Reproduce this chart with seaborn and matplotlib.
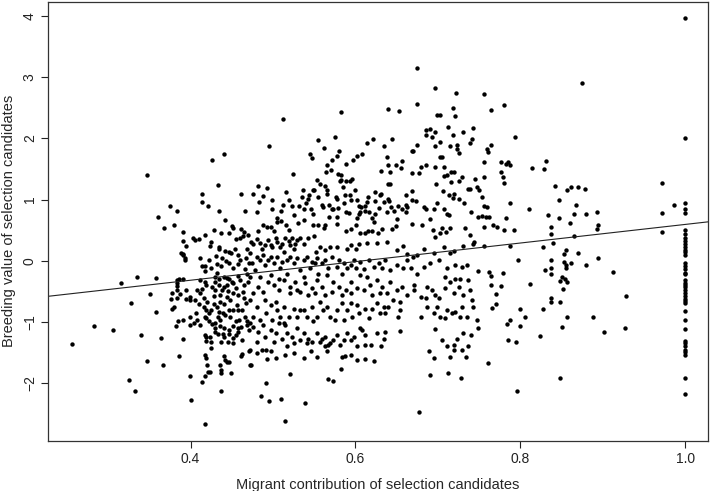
import numpy as np
import pandas as pd
import matplotlib
matplotlib.use("Agg")
import matplotlib.pyplot as plt
import seaborn as sns

# points, (migrant contribution, breeding value)
upper_left = [
    (0.347, 1.41), (0.426, 1.65), (0.441, 1.75), (0.433, 1.24), (0.414, 1.09), (0.414, 0.96),
    (0.421, 0.89), (0.435, 0.82), (0.375, 0.89), (0.383, 0.81), (0.360, 0.71), (0.461, 1.10),
    (0.476, 1.10), (0.482, 1.22), (0.483, 0.96), (0.466, 0.82), (0.480, 0.79), (0.442, 0.66),
]

upper_mid = [
    (0.675, 3.15), (0.697, 2.83), (0.722, 2.75), (0.756, 2.73), (0.675, 2.57), (0.639, 2.48),
    (0.653, 2.45), (0.583, 2.44), (0.512, 2.31), (0.718, 2.50), (0.721, 2.36), (0.699, 2.39),
    (0.703, 2.39), (0.495, 1.87), (0.686, 2.14), (0.691, 2.16), (0.696, 2.10), (0.685, 2.06),
    (0.693, 2.03), (0.712, 2.18), (0.718, 2.06), (0.730, 2.11), (0.743, 2.17), (0.741, 1.99),
    (0.739, 1.92), (0.760, 1.82), (0.761, 1.78), (0.756, 1.61), (0.756, 1.37), (0.723, 1.89),
    (0.715, 1.88), (0.725, 1.77), (0.723, 1.83), (0.697, 1.88), (0.702, 1.94), (0.675, 1.89),
    (0.668, 1.80), (0.670, 1.80), (0.644, 1.99), (0.634, 1.88), (0.638, 1.70), (0.621, 1.99),
    (0.614, 1.92), (0.657, 1.63), (0.649, 1.56), (0.639, 1.57), (0.655, 1.52), (0.631, 1.47),
    (0.642, 1.45), (0.686, 1.56), (0.680, 1.53), (0.668, 1.43), (0.677, 1.44), (0.696, 1.53),
    (0.707, 1.53), (0.705, 1.70), (0.703, 1.69), (0.711, 1.41), (0.716, 1.45), (0.720, 1.46),
    (0.698, 1.26), (0.707, 1.39), (0.716, 1.29), (0.725, 1.30), (0.729, 1.37), (0.745, 1.33),
    (0.737, 1.18), (0.739, 1.18), (0.748, 1.21), (0.750, 1.16), (0.706, 1.14), (0.713, 1.08),
    (0.719, 1.09), (0.718, 1.02), (0.726, 1.01), (0.732, 0.94), (0.754, 1.05), (0.669, 1.14),
    (0.674, 0.97), (0.668, 0.99), (0.640, 1.25), (0.642, 1.25), (0.624, 1.12), (0.631, 1.10),
    (0.630, 1.07), (0.635, 0.96), (0.640, 1.01), (0.641, 0.97), (0.643, 0.88), (0.647, 0.81),
    (0.652, 0.90), (0.656, 0.84), (0.661, 0.92), (0.661, 1.07), (0.624, 0.98), (0.628, 0.87),
    (0.614, 0.96), (0.607, 0.88), (0.612, 0.82), (0.604, 0.76), (0.597, 1.64), (0.602, 1.71),
    (0.608, 1.74), (0.588, 1.59), (0.572, 1.64), (0.578, 1.72), (0.580, 1.79), (0.575, 2.03),
    (0.562, 1.85), (0.555, 1.98), (0.545, 1.74), (0.547, 1.68), (0.565, 1.56), (0.564, 1.45),
    (0.570, 1.48), (0.579, 1.42), (0.582, 1.40), (0.581, 1.31), (0.583, 1.32), (0.588, 1.30),
    (0.593, 1.31), (0.596, 1.34), (0.524, 1.42), (0.553, 1.32), (0.557, 1.25), (0.563, 1.23),
    (0.536, 1.16), (0.548, 1.15), (0.550, 1.16), (0.565, 1.16), (0.566, 1.10), (0.576, 1.04),
    (0.577, 1.01), (0.587, 1.08), (0.593, 1.08), (0.542, 1.01), (0.540, 0.95), (0.544, 1.08),
    (0.516, 1.12), (0.519, 0.99), (0.523, 0.90), (0.512, 0.92), (0.499, 1.00), (0.488, 1.06),
    (0.493, 1.19), (0.499, 0.85), (0.510, 0.82), (0.532, 0.90), (0.537, 0.85), (0.559, 0.91),
    (0.561, 0.88), (0.568, 0.92), (0.571, 0.84), (0.573, 0.84), (0.579, 0.87), (0.586, 0.95),
    (0.594, 0.99), (0.588, 0.79), (0.592, 0.78), (0.602, 0.99), (0.604, 0.90), (0.611, 0.90),
    (0.606, 0.79), (0.616, 0.79), (0.546, 0.84), (0.548, 0.77), (0.568, 0.72), (0.577, 0.71),
    (0.602, 0.70), (0.624, 0.77), (0.638, 0.79), (0.661, 0.80), (0.662, 0.88), (0.683, 0.88),
    (0.686, 0.84), (0.695, 0.84), (0.699, 0.94), (0.707, 0.84), (0.711, 0.77), (0.714, 0.75),
    (0.740, 0.79), (0.749, 0.72), (0.754, 0.73), (0.756, 0.90), (0.760, 0.88),
    (0.505, 0.70), (0.525, 0.75), (0.535, 1.05), (0.555, 1.05), (0.585, 1.20), (0.600, 1.15),
    (0.615, 1.05), (0.620, 0.70), (0.650, 0.68), (0.690, 0.68), (0.530, 0.62), (0.510, 0.65),
]

upper_right = [
    (0.875, 2.90), (0.765, 2.47), (0.780, 2.55), (0.793, 2.02), (0.765, 1.90), (0.777, 1.62),
    (0.782, 1.59), (0.785, 1.61), (0.787, 1.57), (0.814, 1.51), (0.829, 1.50), (0.831, 1.63),
    (0.776, 1.45), (0.779, 1.37), (0.780, 1.27), (0.972, 1.28), (0.842, 1.22), (0.856, 1.16),
    (0.861, 1.21), (0.870, 1.21), (0.879, 1.17), (0.847, 1.00), (0.788, 0.95), (0.811, 0.84),
    (0.867, 0.91), (0.986, 0.91), (0.972, 0.78), (0.893, 0.79), (0.880, 0.77), (0.865, 0.77),
    (0.833, 0.75), (0.847, 0.70), (0.758, 0.72), (0.762, 0.71), (0.782, 0.70),
]

lower_right = [
    (0.767, 0.59), (0.772, 0.55), (0.780, 0.51), (0.792, 0.50), (0.837, 0.55), (0.837, 0.44),
    (0.860, 0.62), (0.840, 0.29), (0.865, 0.40), (0.894, 0.59), (0.893, 0.52), (0.972, 0.47),
    (0.788, 0.24), (0.827, 0.23), (0.855, 0.18), (0.853, 0.11), (0.870, 0.13), (0.837, 0.02),
    (0.797, 0.01), (0.894, 0.04), (0.880, -0.07), (0.861, -0.04), (0.853, -0.02), (0.855, -0.07),
    (0.855, -0.11), (0.830, -0.15), (0.837, -0.12), (0.837, -0.22), (0.851, -0.26), (0.848, -0.33),
    (0.854, -0.30), (0.856, -0.35), (0.852, -0.46), (0.912, -0.19), (0.762, -0.19), (0.765, -0.24),
    (0.779, -0.20), (0.765, -0.39), (0.777, -0.41), (0.770, -0.54), (0.771, -0.71), (0.766, -0.77),
    (0.812, -0.38), (0.928, -0.57), (0.837, -0.60), (0.837, -0.68), (0.848, -0.67), (0.828, -0.79),
    (0.800, -0.78), (0.806, -0.91), (0.857, -0.92), (0.888, -0.91), (0.850, -1.08), (0.901, -1.16),
    (0.927, -1.10), (0.787, -0.96), (0.784, -1.04), (0.800, -1.07), (0.824, -1.23), (0.785, -1.30),
    (0.795, -1.32), (0.761, -1.67), (0.848, -1.92), (0.796, -2.13),
]

lower_mid = [
    (0.488, 0.58), (0.493, 0.55), (0.497, 0.55), (0.482, 0.49), (0.501, 0.49), (0.505, 0.63),
    (0.516, 0.59), (0.519, 0.51), (0.538, 0.66), (0.549, 0.58), (0.555, 0.58), (0.563, 0.58),
    (0.562, 0.53), (0.578, 0.61), (0.589, 0.48), (0.594, 0.52), (0.601, 0.58), (0.606, 0.45),
    (0.612, 0.46), (0.615, 0.49), (0.620, 0.49), (0.623, 0.63), (0.627, 0.45), (0.632, 0.52),
    (0.644, 0.52), (0.649, 0.57), (0.669, 0.61), (0.681, 0.58), (0.694, 0.50), (0.697, 0.39),
    (0.702, 0.45), (0.705, 0.53), (0.710, 0.47), (0.715, 0.54), (0.733, 0.54), (0.739, 0.42),
    (0.744, 0.31), (0.756, 0.55),
    (0.480, 0.35), (0.484, 0.29), (0.497, 0.26), (0.499, 0.22), (0.505, 0.31), (0.511, 0.28),
    (0.515, 0.38), (0.519, 0.33), (0.523, 0.37), (0.527, 0.27), (0.533, 0.37), (0.537, 0.28),
    (0.543, 0.37), (0.550, 0.40), (0.552, 0.15), (0.557, 0.23), (0.563, 0.17), (0.569, 0.23),
    (0.578, 0.22), (0.590, 0.20), (0.594, 0.26), (0.601, 0.19), (0.604, 0.28), (0.614, 0.29),
    (0.626, 0.29), (0.638, 0.31), (0.650, 0.17), (0.658, 0.24), (0.663, 0.11), (0.670, 0.07),
    (0.675, 0.09), (0.683, 0.19), (0.695, 0.12), (0.707, 0.23), (0.715, 0.12), (0.719, 0.16),
    (0.731, 0.24), (0.743, 0.28), (0.756, 0.24),
    (0.476, 0.28), (0.472, 0.12), (0.486, 0.20), (0.490, 0.26), (0.494, 0.34), (0.503, 0.37),
    (0.509, 0.23), (0.513, 0.15), (0.521, 0.26), (0.525, 0.19), (0.529, 0.34),
    (0.480, 0.07), (0.488, 0.09), (0.494, 0.01), (0.505, 0.07), (0.511, -0.02), (0.521, 0.07),
    (0.529, 0.04), (0.541, 0.07), (0.547, -0.02), (0.553, 0.04), (0.563, 0.01), (0.571, 0.07),
    (0.580, 0.01), (0.586, -0.04), (0.598, 0.01), (0.606, -0.02), (0.616, 0.01), (0.628, -0.04),
    (0.636, 0.01), (0.650, -0.07), (0.658, -0.12),
    (0.474, -0.04), (0.478, -0.15), (0.484, 0.01), (0.490, -0.07), (0.497, 0.07), (0.501, -0.04),
    (0.509, -0.12), (0.517, 0.01), (0.525, -0.04), (0.533, -0.15), (0.537, 0.01), (0.545, -0.12),
    (0.551, -0.04), (0.555, -0.21), (0.559, -0.04), (0.567, -0.12), (0.578, -0.10), (0.584, -0.21),
    (0.590, -0.12), (0.594, -0.07), (0.601, -0.12), (0.610, -0.14), (0.622, -0.10), (0.632, -0.12),
    (0.642, -0.15), (0.663, 0.01), (0.667, -0.12), (0.675, -0.21), (0.683, -0.10), (0.691, -0.04),
    (0.701, 0.01), (0.711, -0.12), (0.721, -0.07), (0.729, -0.10), (0.735, -0.07), (0.749, -0.16),
    (0.472, -0.26), (0.484, -0.26), (0.497, -0.23), (0.507, -0.29), (0.517, -0.21), (0.521, -0.53),
    (0.529, -0.48), (0.537, -0.26), (0.543, -0.56), (0.551, -0.53), (0.563, -0.56), (0.571, -0.51),
    (0.584, -0.56), (0.594, -0.53), (0.606, -0.23), (0.614, -0.26), (0.620, -0.56), (0.630, -0.53),
    (0.642, -0.34), (0.656, -0.42), (0.663, -0.56), (0.687, -0.42), (0.693, -0.48), (0.709, -0.45),
    (0.719, -0.53), (0.725, -0.42), (0.739, -0.48),
    (0.476, -0.53), (0.482, -0.42), (0.488, -0.51), (0.494, -0.34), (0.501, -0.40), (0.507, -0.48),
    (0.513, -0.31), (0.521, -0.42), (0.527, -0.34), (0.533, -0.51), (0.539, -0.37), (0.547, -0.45),
    (0.553, -0.31), (0.559, -0.42), (0.565, -0.23), (0.573, -0.34), (0.580, -0.42), (0.588, -0.48),
    (0.594, -0.34), (0.602, -0.45), (0.610, -0.48), (0.618, -0.40), (0.626, -0.31), (0.632, -0.42),
    (0.638, -0.53), (0.650, -0.48), (0.654, -0.67), (0.671, -0.40), (0.671, -0.48), (0.679, -0.59),
    (0.685, -0.61), (0.697, -0.56), (0.701, -0.61), (0.709, -0.26), (0.715, -0.34), (0.721, -0.29),
    (0.727, -0.29), (0.731, -0.56), (0.737, -0.31), (0.741, -0.64),
    (0.472, -0.64), (0.480, -0.75), (0.490, -0.64), (0.492, -0.86), (0.503, -0.67), (0.505, -0.80),
    (0.513, -0.75), (0.519, -0.91), (0.525, -0.78), (0.533, -0.80), (0.541, -0.91), (0.547, -0.75),
    (0.553, -0.91), (0.557, -0.67), (0.565, -0.75), (0.569, -0.91), (0.578, -0.80), (0.584, -0.69),
    (0.590, -0.80), (0.596, -0.91), (0.604, -0.86), (0.612, -0.78), (0.620, -0.78), (0.630, -0.86),
    (0.636, -0.86), (0.640, -0.75), (0.646, -0.64), (0.654, -0.80), (0.680, -0.92), (0.695, -0.86),
    (0.703, -0.91), (0.709, -0.94), (0.717, -0.86), (0.721, -0.83), (0.729, -0.75), (0.735, -0.91),
    (0.748, -0.97),
    (0.476, -0.91), (0.484, -0.97), (0.497, -0.72), (0.499, -0.97), (0.509, -0.91), (0.513, -1.02),
    (0.529, -0.91), (0.537, -0.80), (0.549, -0.99), (0.561, -0.80), (0.575, -0.97), (0.586, -0.97),
    (0.594, -0.69), (0.602, -0.72), (0.616, -0.94), (0.626, -0.69), (0.634, -0.75), (0.652, -0.91),
    (0.687, -0.75), (0.699, -0.75), (0.711, -0.80), (0.727, -0.91), (0.743, -0.75),
    (0.472, -1.02), (0.476, -1.08), (0.482, -1.16), (0.488, -1.05), (0.497, -1.13), (0.503, -1.18),
    (0.507, -1.02), (0.515, -1.05), (0.517, -1.18), (0.523, -1.24), (0.529, -1.10), (0.537, -1.18),
    (0.543, -1.27), (0.547, -1.32), (0.553, -1.18), (0.559, -1.27), (0.563, -1.24), (0.569, -1.35),
    (0.578, -1.21), (0.586, -1.29), (0.594, -1.29), (0.602, -1.40), (0.612, -1.38), (0.619, -1.38),
    (0.606, -1.10), (0.608, -1.13), (0.612, -1.21), (0.631, -1.39), (0.636, -1.17), (0.654, -1.14),
    (0.696, -1.12), (0.730, -1.18), (0.740, -1.22), (0.749, -1.10),
    (0.480, -1.32), (0.490, -1.24), (0.501, -1.32), (0.511, -1.27), (0.525, -1.35), (0.533, -1.29),
    (0.541, -1.35), (0.557, -1.32), (0.573, -1.29), (0.581, -1.38), (0.590, -1.18), (0.598, -1.24),
    (0.626, -1.18), (0.634, -1.27), (0.705, -1.29), (0.711, -1.40), (0.723, -1.27), (0.737, -1.40),
    (0.480, -1.51), (0.503, -1.59), (0.525, -1.51), (0.537, -1.59), (0.553, -1.57), (0.594, -1.54),
    (0.602, -1.62),
    (0.472, -1.70), (0.486, -1.45), (0.492, -1.45), (0.497, -1.47), (0.493, -1.61), (0.515, -1.54),
    (0.517, -1.40), (0.546, -1.48), (0.563, -1.40), (0.567, -1.38), (0.565, -1.48), (0.584, -1.57),
    (0.587, -1.55), (0.611, -1.61), (0.623, -1.64), (0.583, -1.76), (0.521, -1.85), (0.492, -1.99),
    (0.485, -2.21), (0.495, -2.29), (0.510, -2.25), (0.515, -2.61), (0.539, -2.33), (0.567, -1.93),
    (0.573, -1.96), (0.677, -2.47), (0.689, -1.48), (0.695, -1.59), (0.691, -1.86), (0.712, -1.83),
    (0.715, -1.57), (0.720, -1.38), (0.720, -1.46), (0.729, -1.46), (0.734, -1.57), (0.728, -1.92),
]

lower_left = [
    (0.368, 0.53), (0.380, 0.59), (0.391, 0.47), (0.391, 0.32), (0.395, 0.24), (0.403, 0.37),
    (0.405, 0.34), (0.410, 0.35), (0.418, 0.43), (0.428, 0.51), (0.437, 0.45), (0.450, 0.57),
    (0.452, 0.53), (0.424, 0.25), (0.434, 0.22), (0.435, 0.19), (0.442, 0.16), (0.446, 0.15),
    (0.461, 0.52), (0.465, 0.47), (0.463, 0.40), (0.460, 0.38), (0.470, 0.42), (0.473, 0.31),
    (0.388, 0.13), (0.391, 0.11), (0.393, 0.04), (0.393, 0.01), (0.391, 0.09), (0.412, 0.05),
    (0.422, 0.02), (0.431, 0.08), (0.432, -0.05), (0.437, -0.09), (0.443, 0.00), (0.449, 0.12),
    (0.447, -0.03), (0.454, 0.19), (0.457, 0.10), (0.460, 0.01), (0.467, 0.04), (0.471, -0.04),
    (0.414, -0.08), (0.417, -0.09), (0.418, -0.16), (0.425, -0.11), (0.429, -0.27), (0.432, -0.20),
    (0.435, -0.29), (0.441, -0.26), (0.444, -0.28), (0.452, -0.12), (0.457, -0.24), (0.466, -0.13),
    (0.468, -0.21), (0.447, -0.30), (0.450, -0.34), (0.316, -0.37), (0.335, -0.27), (0.358, -0.28),
    (0.384, -0.31), (0.386, -0.29), (0.391, -0.29), (0.384, -0.37), (0.383, -0.41), (0.351, -0.55),
    (0.328, -0.69), (0.358, -0.83), (0.283, -1.07), (0.306, -1.13), (0.256, -1.36), (0.340, -1.22),
    (0.347, -1.64), (0.367, -1.71), (0.364, -1.26), (0.325, -1.94), (0.332, -2.12), (0.386, -1.55),
    (0.391, -1.28), (0.399, -1.88), (0.414, -1.98), (0.418, -1.89), (0.421, -1.82), (0.424, -1.82),
    (0.437, -2.13), (0.420, -1.71), (0.436, -1.71), (0.437, -1.78), (0.437, -1.84), (0.449, -1.84),
    (0.473, -1.71), (0.440, -1.55), (0.442, -1.62), (0.444, -1.65), (0.446, -1.65), (0.461, -1.55),
    (0.462, -1.52), (0.471, -1.48), (0.472, -1.46), (0.419, -1.59), (0.418, -1.54), (0.425, -1.42),
    (0.425, -1.33), (0.419, -1.31), (0.418, -1.21), (0.419, -1.24), (0.429, -1.17), (0.433, -1.20),
    (0.439, -1.20), (0.441, -1.24), (0.437, -1.32), (0.445, -1.33), (0.452, -1.26), (0.452, -1.35),
    (0.455, -1.22), (0.458, -1.16), (0.461, -1.08), (0.468, -1.05), (0.471, -1.13), (0.412, -1.05),
    (0.417, -0.91), (0.419, -0.94), (0.422, -0.98), (0.426, -1.04), (0.430, -1.02), (0.433, -0.91),
    (0.436, -0.97), (0.439, -0.85), (0.442, -0.89), (0.436, -1.07), (0.440, -1.10), (0.446, -1.13),
    (0.452, -1.07), (0.457, -1.09), (0.459, -0.97), (0.466, -0.91), (0.469, -0.99), (0.462, -0.80),
    (0.385, -0.99), (0.391, -0.96), (0.399, -0.92), (0.404, -1.01), (0.399, -1.05), (0.408, -0.97),
    (0.382, -1.06), (0.377, -0.78), (0.380, -0.75), (0.376, -0.63), (0.378, -0.52), (0.383, -0.48),
    (0.387, -0.55), (0.383, -0.60), (0.395, -0.48), (0.399, -0.59), (0.395, -0.63), (0.399, -0.64),
    (0.405, -0.64), (0.408, -0.48), (0.414, -0.46), (0.412, -0.53), (0.416, -0.61), (0.416, -0.75),
    (0.419, -0.80), (0.425, -0.80), (0.428, -0.71), (0.432, -0.75), (0.436, -0.67), (0.440, -0.71),
    (0.444, -0.59), (0.448, -0.64), (0.452, -0.53), (0.458, -0.56), (0.463, -0.51), (0.467, -0.69),
    (0.456, -0.72), (0.458, -0.80), (0.452, -0.80), (0.446, -0.80), (0.434, -0.84), (0.422, -0.86),
    (0.412, -0.31), (0.417, -0.34), (0.419, -0.40), (0.426, -0.42), (0.430, -0.34), (0.434, -0.40),
    (0.440, -0.42), (0.444, -0.40), (0.452, -0.37), (0.460, -0.31), (0.470, -0.34), (0.430, -0.48),
    (0.438, -0.48), (0.436, -0.56), (0.418, -2.66), (0.400, -2.28),
    (0.445, -0.50), (0.455, -0.45), (0.465, -0.60), (0.428, -0.58), (0.420, -0.68), (0.448, -0.92),
    (0.455, -0.99), (0.430, -1.10), (0.424, -1.25), (0.447, -1.20), (0.462, -1.30), (0.407, -0.85),
    (0.410, -0.70), (0.465, -0.40), (0.458, -0.05), (0.438, 0.05), (0.425, 0.30), (0.455, 0.35),
    (0.447, 0.45), (0.468, 0.20),
]

# the column of candidates with a migrant contribution of exactly 1.0
full_migrant_bv = [
    3.97, 2.00, 0.94, 0.84, 0.78, 0.51, 0.44, 0.37, 0.32, 0.28, 0.22, 0.17, 0.14, 0.10,
    -0.04, -0.09, -0.14, -0.20, -0.22, -0.31, -0.36, -0.39, -0.43, -0.48, -0.52, -0.58,
    -0.62, -0.65, -0.69, -0.82, -0.97, -1.12, -1.31, -1.35, -1.39, -1.45, -1.49, -1.54,
    -1.91, -2.18,
]

# fitted regression line
line_intercept = -0.925
line_slope = 1.52

pts = upper_left + upper_mid + upper_right + lower_right + lower_mid + lower_left
df = pd.DataFrame(pts, columns=["migrant", "bv"])
df = pd.concat([df, pd.DataFrame({"migrant": 1.0, "bv": full_migrant_bv})], ignore_index=True)

sns.set_style("ticks")
plt.rcParams["font.family"] = ["Liberation Sans", "DejaVu Sans"]

fig = plt.figure(figsize=(7.10, 4.91), dpi=100)
ax = fig.add_axes([0.0676, 0.1024, 0.930, 0.8935])

sns.scatterplot(data=df, x="migrant", y="bv", color="black", s=10,
                edgecolor=None, linewidth=0, ax=ax)
ax.axline((0, line_intercept), slope=line_slope, color="#222222", linewidth=0.8)

ax.set_xlim(0.227, 1.028)
ax.set_ylim(-2.94, 4.23)
ax.set_xticks([0.4, 0.6, 0.8, 1.0])
ax.set_yticks([-2, -1, 0, 1, 2, 3, 4])
ax.set_xticklabels(["0.4", "0.6", "0.8", "1.0"])

for s in ax.spines.values():
    s.set_visible(True)
    s.set_color("#333333")
    s.set_linewidth(0.9)

ax.tick_params(length=5, width=0.8, pad=3, labelsize=10, colors="#222222")
plt.setp(ax.get_yticklabels(), rotation=90, va="center")

ax.set_xlabel("Migrant contribution of selection candidates", fontsize=10.5, labelpad=9)
ax.set_ylabel("Breeding value of selection candidates", fontsize=10.5)
ax.yaxis.set_label_coords(-0.048, 0.5)

fig.savefig("out.png", dpi=100)
